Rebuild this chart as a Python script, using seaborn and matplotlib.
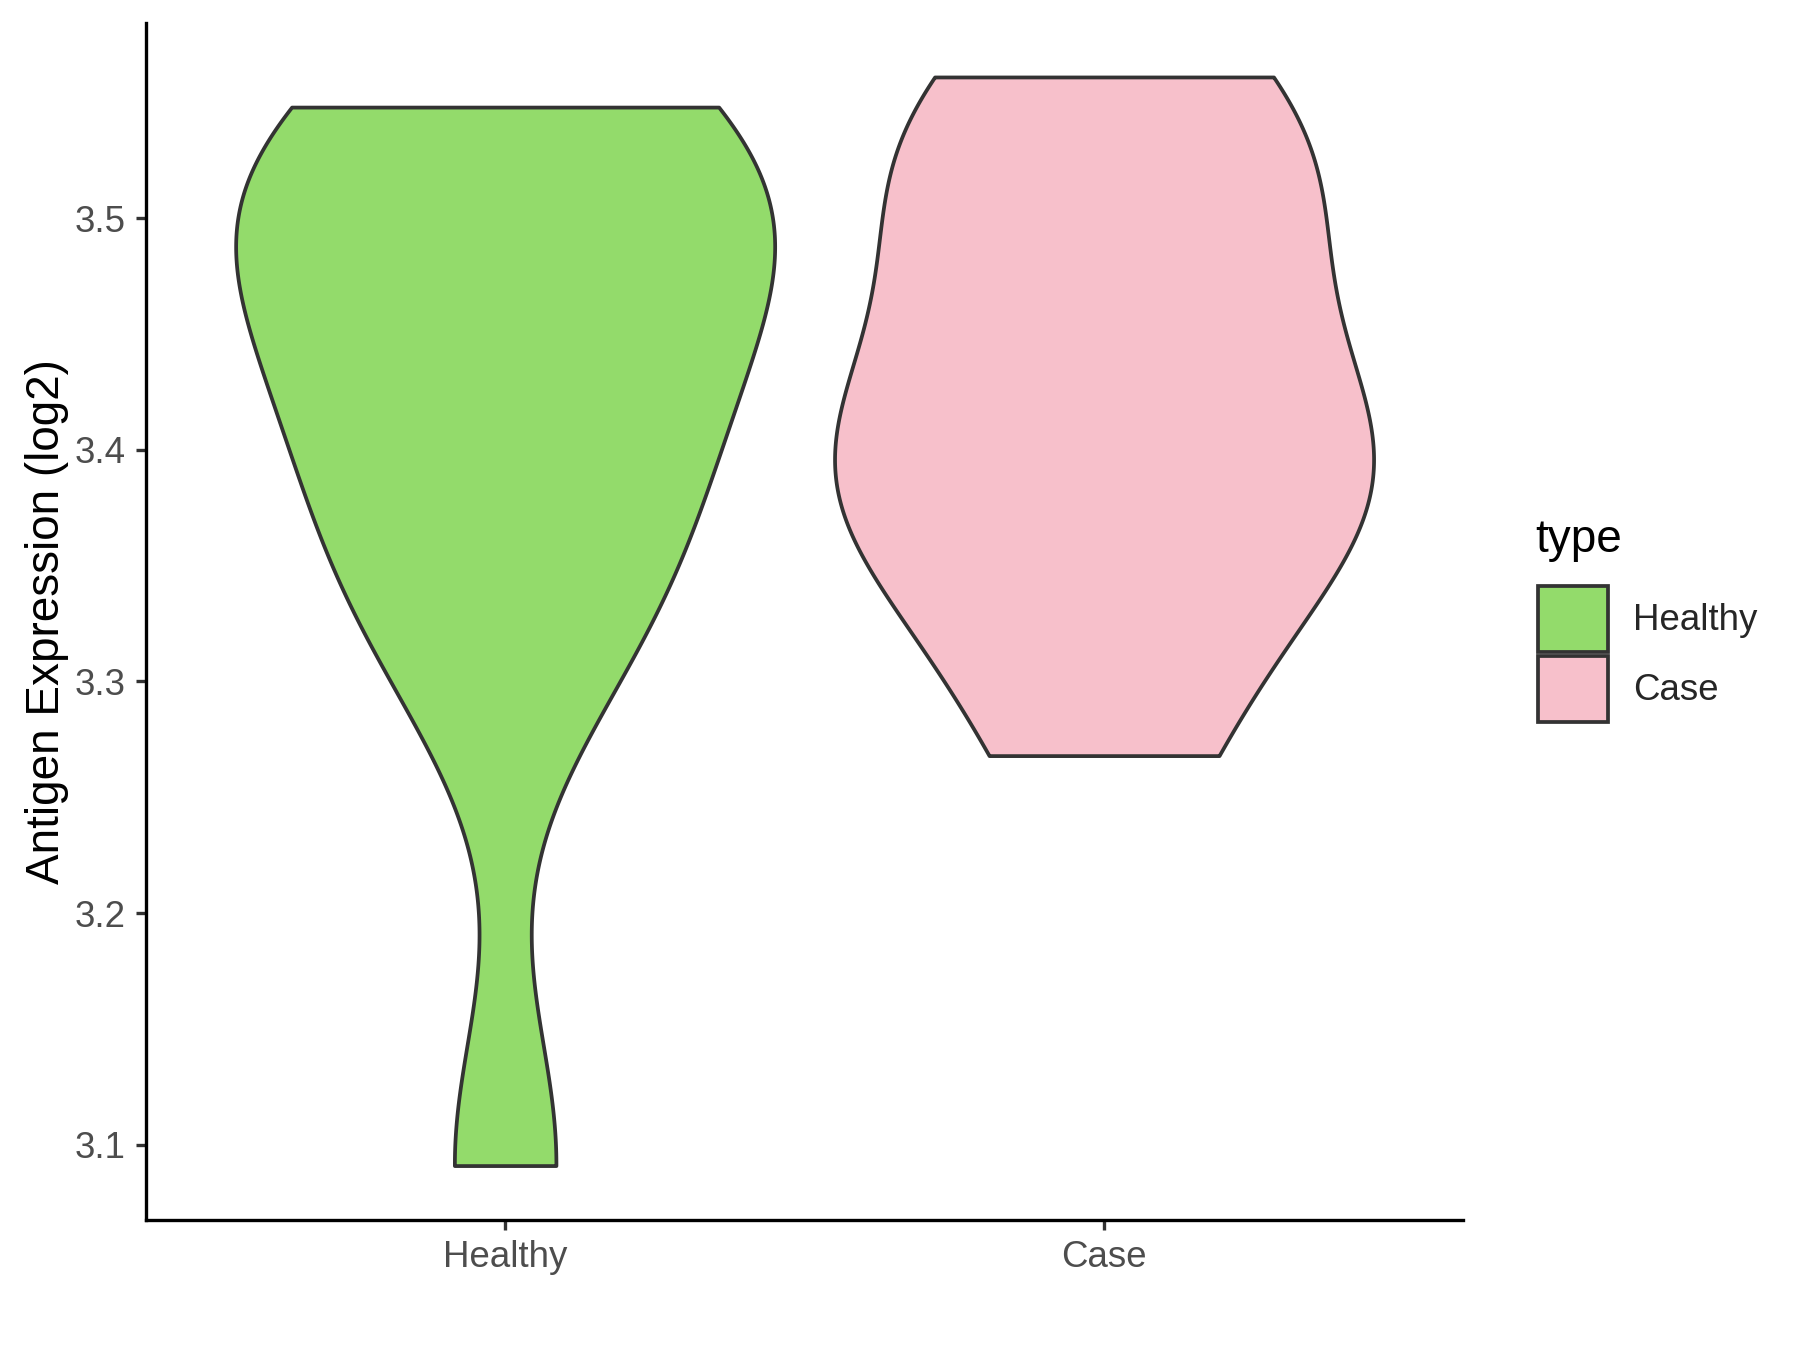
import numpy as np
import pandas as pd
import seaborn as sns
import matplotlib
matplotlib.use("Agg")
import matplotlib.pyplot as plt
from matplotlib.patches import Patch

# Data (log2 antigen expression per sample)
groups = ["Healthy", "Case"]
healthy_values = [3.091, 3.31, 3.35, 3.39, 3.43, 3.465, 3.495, 3.515, 3.535, 3.548]
case_values = [3.268, 3.345, 3.38, 3.40, 3.42, 3.50, 3.525, 3.561]
group_colors = ["#93DB6B", "#F7C0CB"]

df = pd.DataFrame({
    "type": ["Healthy"] * len(healthy_values) + ["Case"] * len(case_values),
    "value": healthy_values + case_values,
})


def nrd0_factor(kde):
    # R's bw.nrd0, expressed as a factor of the sample sd for scipy
    x = np.asarray(kde.dataset).ravel()
    sd = np.std(x, ddof=1)
    q75, q25 = np.percentile(x, [75, 25])
    lo = min(sd, (q75 - q25) / 1.34)
    return 0.9 * lo * len(x) ** -0.2 / sd


sns.set_style("white")
plt.rcParams["font.family"] = ["Liberation Sans", "DejaVu Sans"]

fig = plt.figure(figsize=(12, 9), dpi=150)
ax = fig.add_axes([0.081, 0.0963, 0.732, 0.887])

sns.violinplot(data=df, x="type", y="value", hue="type", order=groups,
               hue_order=groups, palette=group_colors, cut=0, inner=None,
               density_norm="width", width=0.9, gridsize=512,
               bw_method=nrd0_factor, linewidth=1.8, linecolor="#333333",
               saturation=1, legend=False, ax=ax)

lo, hi = df["value"].min(), df["value"].max()
pad = (hi - lo) * 0.05
ax.set_ylim(lo - pad, hi + pad)
ax.set_xlim(-0.6, 1.6)
ax.set_yticks([3.1, 3.2, 3.3, 3.4, 3.5])
ax.set_yticklabels(["3.1", "3.2", "3.3", "3.4", "3.5"])

ax.set_xlabel("")
ax.set_ylabel("Antigen Expression (log2)", fontsize=22, color="black", labelpad=2.5)

for side in ["top", "right"]:
    ax.spines[side].set_visible(False)
for side in ["left", "bottom"]:
    ax.spines[side].set_color("black")
    ax.spines[side].set_linewidth(1.6)

ax.tick_params(axis="both", direction="out", length=4.8, width=1.6,
               color="#333333", labelcolor="#4D4D4D", labelsize=17.6, pad=5,
               left=True, bottom=True)

# legend in the ggplot layout: title above square keys
fig.text(0.853, 0.600, "type", fontsize=22, ha="left", va="center", color="black")
handles = [Patch(facecolor=c, edgecolor="#333333", linewidth=1.8, label=g)
           for g, c in zip(groups, group_colors)]
leg = fig.legend(handles=handles, loc="upper left",
                 bbox_to_anchor=(0.8545, 0.566), frameon=False,
                 fontsize=17.6, handlelength=1.9, handleheight=2.4,
                 labelspacing=0.1, handletextpad=0.7, borderpad=0,
                 borderaxespad=0, alignment="left")

fig.savefig("out.png", dpi=150, facecolor="white")
